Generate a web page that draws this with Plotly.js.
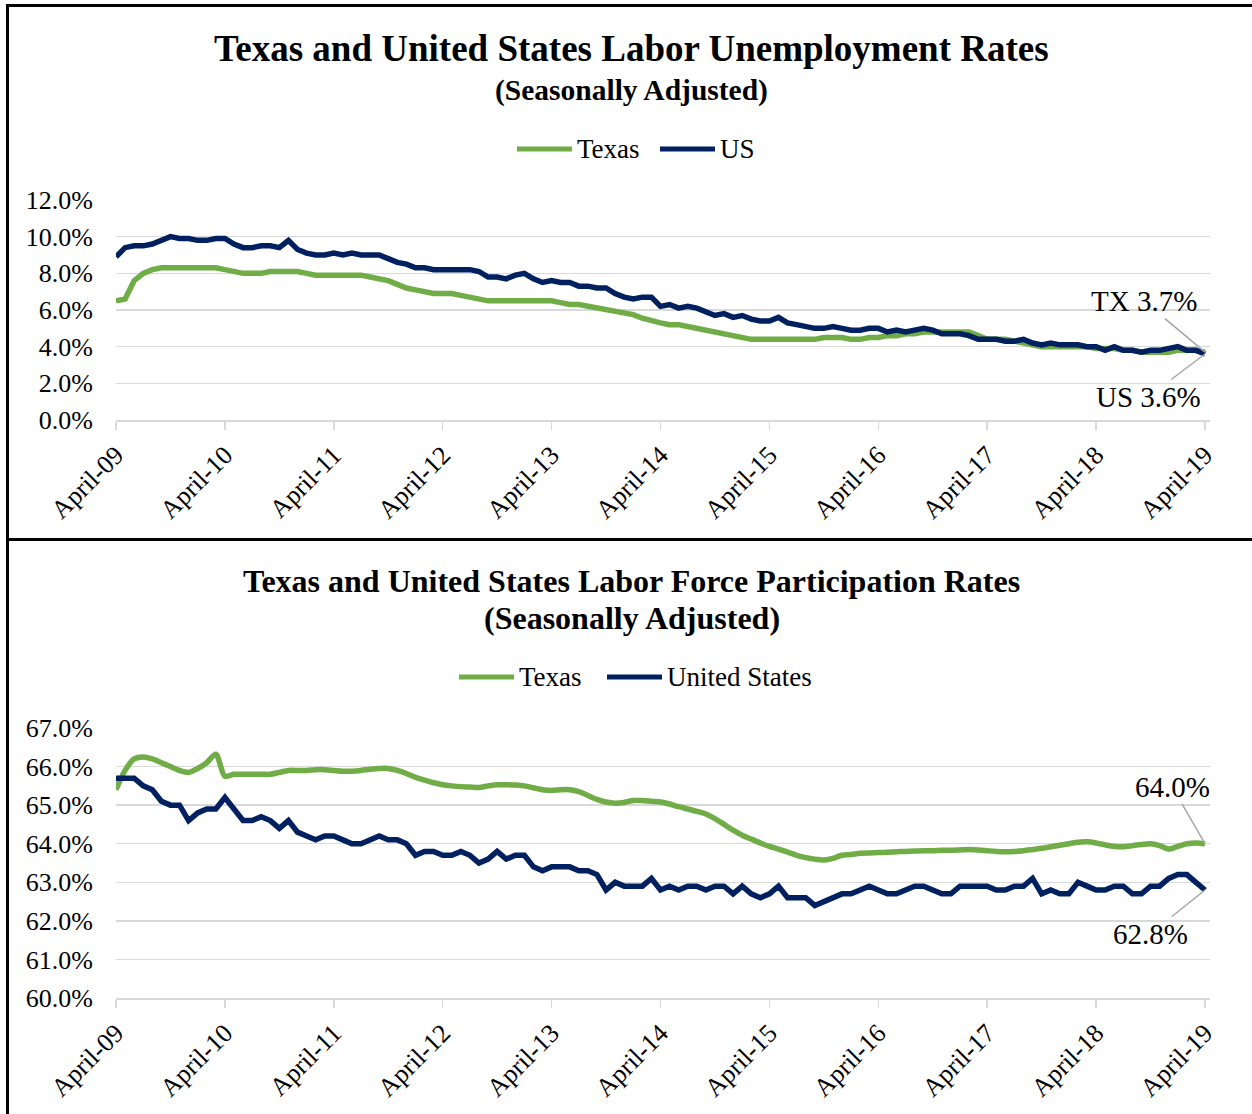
<!DOCTYPE html>
<html>
<head>
<meta charset="utf-8">
<script src="https://cdn.plot.ly/plotly-3.0.1.min.js"></script>
<style>
  html, body { margin: 0; padding: 0; background: #ffffff; }
  #wrap { position: relative; width: 1252px; height: 1114px; overflow: hidden; background: #fff; }
  #top { position: absolute; left: 0; top: 0; width: 1252px; height: 538px; }
  #bot { position: absolute; left: 0; top: 541px; width: 1252px; height: 573px; }
  .bd { position: absolute; background: #000; z-index: 10; }
</style>
</head>
<body>
<div id="wrap">
  <div id="top"></div>
  <div id="bot"></div>
  <div class="bd" style="left:6px; top:4px; width:1246px; height:2.5px;"></div>
  <div class="bd" style="left:6px; top:4px; width:3px; height:1110px;"></div>
  <div class="bd" style="left:6px; top:538px; width:1246px; height:3px;"></div>
</div>
<script>
// Monthly observations, April 2009 to April 2019 (121 months)
const tickLabels = ["April-09","April-10","April-11","April-12","April-13","April-14","April-15","April-16","April-17","April-18","April-19"];

// Unemployment rate (%), seasonally adjusted
const txUnemp = [
  6.5, 6.6, 7.6, 8.0, 8.2, 8.3, 8.3, 8.3, 8.3, 8.3, 8.3, 8.3,
  8.2, 8.1, 8.0, 8.0, 8.0, 8.1, 8.1, 8.1, 8.1, 8.0, 7.9, 7.9,
  7.9, 7.9, 7.9, 7.9, 7.8, 7.7, 7.6, 7.4, 7.2, 7.1, 7.0, 6.9,
  6.9, 6.9, 6.8, 6.7, 6.6, 6.5, 6.5, 6.5, 6.5, 6.5, 6.5, 6.5,
  6.5, 6.4, 6.3, 6.3, 6.2, 6.1, 6.0, 5.9, 5.85, 5.75, 5.55, 5.4,
  5.3, 5.2, 5.2, 5.1, 5.0, 4.9, 4.8, 4.7, 4.6, 4.5, 4.4, 4.4,
  4.4, 4.4, 4.4, 4.4, 4.4, 4.4, 4.5, 4.5, 4.5, 4.4, 4.4, 4.5,
  4.5, 4.6, 4.6, 4.7, 4.7, 4.8, 4.8, 4.8, 4.8, 4.8, 4.8, 4.6,
  4.4, 4.4, 4.4, 4.3, 4.2, 4.1, 4.0, 4.0, 4.0, 4.0, 4.0, 4.0,
  3.9, 3.9, 3.9, 3.8, 3.8, 3.7, 3.7, 3.7, 3.7, 3.8, 3.8, 3.8,
  3.7
];
const usUnemp = [
  8.9, 9.4, 9.5, 9.5, 9.6, 9.8, 10.0, 9.9, 9.9,
  9.8, 9.8, 9.9, 9.9, 9.6, 9.4, 9.4, 9.5, 9.5, 9.4, 9.8, 9.3,
  9.1, 9.0, 9.0, 9.1, 9.0, 9.1, 9.0, 9.0, 9.0, 8.8, 8.6, 8.5,
  8.3, 8.3, 8.2, 8.2, 8.2, 8.2, 8.2, 8.1, 7.8, 7.8, 7.7, 7.9,
  8.0, 7.7, 7.5, 7.6, 7.5, 7.5, 7.3, 7.3, 7.2, 7.2, 6.9, 6.7,
  6.6, 6.7, 6.7, 6.2, 6.3, 6.1, 6.2, 6.1, 5.9, 5.7, 5.8, 5.6,
  5.7, 5.5, 5.4, 5.4, 5.6, 5.3, 5.2, 5.1, 5.0, 5.0, 5.1, 5.0,
  4.9, 4.9, 5.0, 5.0, 4.8, 4.9, 4.8, 4.9, 5.0, 4.9, 4.7, 4.7,
  4.7, 4.6, 4.4, 4.4, 4.4, 4.3, 4.3, 4.4, 4.2, 4.1, 4.2, 4.1,
  4.1, 4.1, 4.0, 4.0, 3.8, 4.0, 3.8, 3.8, 3.7, 3.8, 3.8, 3.9,
  4.0, 3.8, 3.8, 3.6
];

// Labor force participation rate (%), seasonally adjusted
const txLfpr = [
  65.4, 65.9, 66.2, 66.25, 66.2, 66.1, 66.0, 65.9, 65.85, 65.95, 66.1, 66.32,
  65.75, 65.8, 65.8, 65.8, 65.8, 65.8, 65.85, 65.9, 65.9, 65.9, 65.92, 65.92,
  65.9, 65.88, 65.88, 65.9, 65.93, 65.95, 65.95, 65.9, 65.82, 65.72, 65.65, 65.58,
  65.53, 65.5, 65.48, 65.47, 65.46, 65.5, 65.53, 65.53, 65.52, 65.5, 65.45, 65.4,
  65.38, 65.4, 65.4, 65.35, 65.25, 65.15, 65.08, 65.05, 65.07, 65.12, 65.12, 65.1,
  65.08, 65.03, 64.96, 64.9, 64.84, 64.77, 64.65, 64.5, 64.35, 64.22, 64.12, 64.02,
  63.93, 63.86, 63.78, 63.7, 63.64, 63.6, 63.58, 63.62, 63.7, 63.72, 63.75, 63.76,
  63.77, 63.78, 63.79, 63.8, 63.81, 63.82, 63.82, 63.83, 63.83, 63.84, 63.85, 63.84,
  63.82, 63.8, 63.79, 63.8, 63.82, 63.85, 63.88, 63.92, 63.96, 64.0, 64.04, 64.05,
  64.02, 63.97, 63.93, 63.92, 63.95, 63.98, 64.0, 63.95, 63.86, 63.93, 64.0, 64.02,
  64.0
];
const usLfpr = [
  65.7, 65.7, 65.7, 65.5, 65.4, 65.1, 65.0, 65.0, 64.6,
  64.8, 64.9, 64.9, 65.2, 64.9, 64.6, 64.6, 64.7, 64.6, 64.4, 64.6, 64.3,
  64.2, 64.1, 64.2, 64.2, 64.1, 64.0, 64.0, 64.1, 64.2, 64.1, 64.1, 64.0,
  63.7, 63.8, 63.8, 63.7, 63.7, 63.8, 63.7, 63.5, 63.6, 63.8, 63.6, 63.7,
  63.7, 63.4, 63.3, 63.4, 63.4, 63.4, 63.3, 63.3, 63.2, 62.8, 63.0, 62.9,
  62.9, 62.9, 63.1, 62.8, 62.9, 62.8, 62.9, 62.9, 62.8, 62.9, 62.9, 62.7,
  62.9, 62.7, 62.6, 62.7, 62.9, 62.6, 62.6, 62.6, 62.4, 62.5, 62.6, 62.7,
  62.7, 62.8, 62.9, 62.8, 62.7, 62.7, 62.8, 62.9, 62.9, 62.8, 62.7, 62.7,
  62.9, 62.9, 62.9, 62.9, 62.8, 62.8, 62.9, 62.9, 63.1, 62.7, 62.8, 62.7,
  62.7, 63.0, 62.9, 62.8, 62.8, 62.9, 62.9, 62.7, 62.7, 62.9, 62.9, 63.1,
  63.2, 63.2, 63.0, 62.8
];

const GREEN = "#70ad47";
const NAVY = "#002060";
const GRID = "#d9d9d9";
const FONT = "'Liberation Serif', 'Times New Roman', serif";

const monthIdx = txUnemp.map((_, i) => i);
const tickIdx = tickLabels.map((_, i) => i * 12);
const lastIdx = monthIdx[monthIdx.length - 1];

// plot area in pixels (shared by both charts)
const PL = 116, PR = 1210;
const px2paperX = (p) => (p - PL) / (PR - PL);

function xAxis() {
  return {
    range: [0, lastIdx + 0.55],
    tickmode: "array",
    tickvals: tickIdx,
    ticktext: tickLabels,
    tickangle: -45,
    ticks: "outside",
    ticklen: 8,
    tickwidth: 1.5,
    tickcolor: GRID,
    showline: true,
    linecolor: GRID,
    linewidth: 1.5,
    showgrid: false,
    zeroline: false,
    tickfont: { family: FONT, size: 26, color: "#000" },
    fixedrange: true
  };
}
function yAxis(range, dtick) {
  return {
    range: range,
    dtick: dtick,
    tick0: range[0],
    tickformat: ".1f",
    ticksuffix: "%",
    showgrid: true,
    gridcolor: GRID,
    gridwidth: 1.5,
    zeroline: false,
    showline: false,
    ticks: "",
    ticklabelstandoff: 22,
    tickfont: { family: FONT, size: 26, color: "#000" },
    fixedrange: true
  };
}
function titleAnn(text, y, size, x) {
  return { text: "<b>" + text + "</b>", xref: "paper", yref: "paper", x: x, y: y,
           xanchor: "center", yanchor: "middle", showarrow: false,
           font: { family: FONT, size: size, color: "#000" } };
}
function leader(text, xv, yv, ax, ay) {
  return { text: text, x: xv, y: yv, xref: "x", yref: "y", ax: ax, ay: ay,
           showarrow: true, arrowhead: 0, arrowwidth: 1.5, arrowcolor: "#a6a6a6",
           font: { family: FONT, size: 29, color: "#000" } };
}
// legend entries drawn as line sample + label (pixel positions converted to paper)
function legendItems(items, yPaper) {
  const shapes = [], anns = [];
  items.forEach(it => {
    shapes.push({ type: "line", xref: "paper", yref: "paper",
                  x0: px2paperX(it.x0), x1: px2paperX(it.x0 + 55), y0: yPaper, y1: yPaper,
                  line: { color: it.color, width: 5 } });
    anns.push({ text: it.name, xref: "paper", yref: "paper", x: px2paperX(it.x0 + 58), y: yPaper,
                xanchor: "left", yanchor: "middle", showarrow: false,
                font: { family: FONT, size: 27, color: "#000" } });
  });
  return { shapes, anns };
}

// ---- Top chart: unemployment rates ----
const topData = [
  { x: monthIdx, y: txUnemp, type: "scatter", mode: "lines", name: "Texas",
    line: { color: GREEN, width: 5.5 } },
  { x: monthIdx, y: usUnemp, type: "scatter", mode: "lines", name: "US",
    line: { color: NAVY, width: 5.5 } }
];
const topLeg = legendItems([
  { name: "Texas", color: GREEN, x0: 517 },
  { name: "US", color: NAVY, x0: 660 }
], (420 - 149) / 220);
const topLayout = {
  width: 1252, height: 538,
  margin: { l: PL, r: 1252 - PR, t: 200, b: 118 },
  paper_bgcolor: "rgba(0,0,0,0)", plot_bgcolor: "#fff",
  font: { family: FONT, color: "#000" },
  xaxis: xAxis(),
  yaxis: yAxis([0, 12], 2),
  showlegend: false,
  shapes: topLeg.shapes,
  annotations: [
    titleAnn("Texas and United States Labor Unemployment Rates", (420 - 48) / 220, 37, px2paperX(631)),
    titleAnn("(Seasonally Adjusted)", (420 - 90) / 220, 29.5, px2paperX(631)),
    leader("TX 3.7%", lastIdx, txUnemp[lastIdx], -61, -51),
    leader("US 3.6%", lastIdx, usUnemp[lastIdx], -57, 43)
  ].concat(topLeg.anns)
};

// ---- Bottom chart: labor force participation ----
const botData = [
  { x: monthIdx, y: txLfpr, type: "scatter", mode: "lines", name: "Texas",
    line: { color: GREEN, width: 5.5, shape: "spline", smoothing: 0.8 } },
  { x: monthIdx, y: usLfpr, type: "scatter", mode: "lines", name: "United States",
    line: { color: NAVY, width: 5.5 } }
];
const botLeg = legendItems([
  { name: "Texas", color: GREEN, x0: 459 },
  { name: "United States", color: NAVY, x0: 607 }
], (457 - 136) / 270);
const botLayout = {
  width: 1252, height: 573,
  margin: { l: PL, r: 1252 - PR, t: 187, b: 116 },
  paper_bgcolor: "rgba(0,0,0,0)", plot_bgcolor: "#fff",
  font: { family: FONT, color: "#000" },
  xaxis: xAxis(),
  yaxis: yAxis([60, 67], 1),
  showlegend: false,
  shapes: botLeg.shapes,
  annotations: [
    titleAnn("Texas and United States Labor Force Participation Rates", (457 - 40) / 270, 32, px2paperX(631.5)),
    titleAnn("(Seasonally Adjusted)", (457 - 77) / 270, 32, px2paperX(631.5)),
    leader(txLfpr[lastIdx].toFixed(1) + "%", lastIdx, txLfpr[lastIdx], -33, -57),
    leader(usLfpr[lastIdx].toFixed(1) + "%", lastIdx, usLfpr[lastIdx], -55, 44)
  ].concat(botLeg.anns)
};

const cfg = { displayModeBar: false, staticPlot: true };
Plotly.newPlot("top", topData, topLayout, cfg);
Plotly.newPlot("bot", botData, botLayout, cfg);
</script>
</body>
</html>
